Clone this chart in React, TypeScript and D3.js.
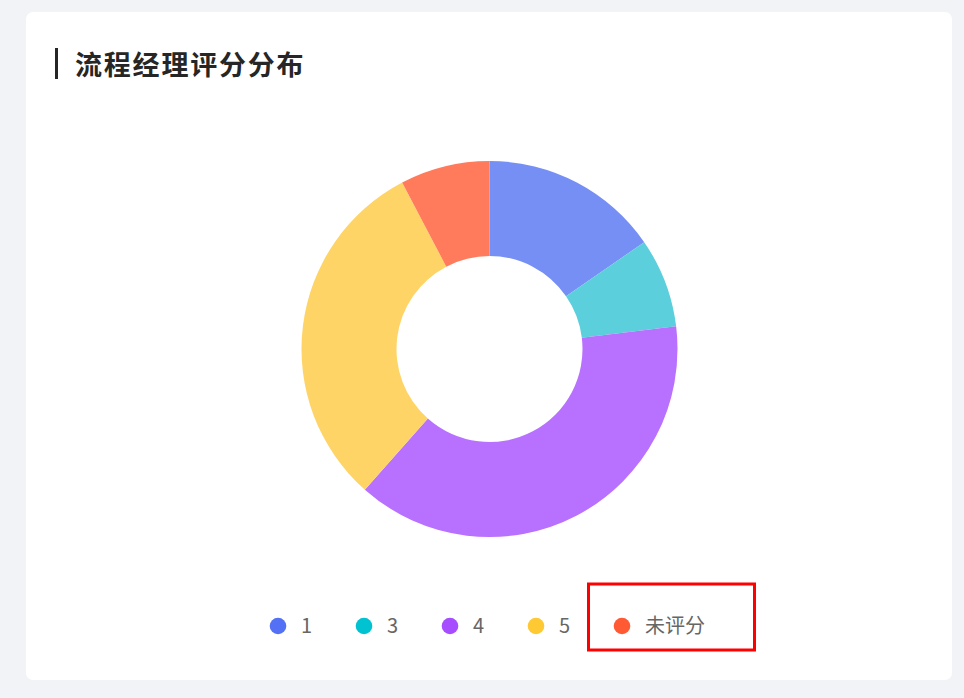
import React from 'react';
import * as d3 from 'd3';

// score distribution of process managers
const categories = ['1', '3', '4', '5', '未评分'];
const counts = [2, 1, 5, 4, 1];
const legendColors = ['#5470f5', '#00c2d1', '#a64dff', '#ffc933', '#ff5a33'];
const sliceColors = ['#768ff5', '#5ccfdc', '#b870ff', '#ffd466', '#ff7b5c'];

const WIDTH = 964;
const HEIGHT = 698;

type Datum = { name: string; value: number; color: string };

const App: React.FC = () => {
  const cx = 489.5;
  const cy = 349;
  const outerRadius = 188;
  const innerRadius = 93;

  const data: Datum[] = categories.map((name, i) => ({ name, value: counts[i], color: sliceColors[i] }));

  const pie = d3
    .pie<Datum>()
    .sort(null)
    .value(d => d.value);

  const arc = d3
    .arc<d3.PieArcDatum<Datum>>()
    .innerRadius(innerRadius)
    .outerRadius(outerRadius);

  const arcs = pie(data);

  // legend: dots spaced evenly, centred under the donut
  const legendStep = 86;
  const legendY = 626;
  const legendX = d3
    .scalePoint<string>()
    .domain(categories)
    .range([cx - 211.5, cx - 211.5 + legendStep * (categories.length - 1)]);

  return (
    <svg
      width={WIDTH}
      height={HEIGHT}
      style={{ position: 'absolute', left: 0, top: 0, display: 'block' }}
    >
      <rect x={0} y={0} width={WIDTH} height={HEIGHT} fill="#f2f3f7" />
      <rect x={26} y={12} width={926} height={668} rx={7} fill="#ffffff" />

      {/* Title */}
      <rect x={55} y={48} width={3} height={31} fill="#262626" />
      <text
        x={75}
        y={74.5}
        fontFamily='"Noto Sans CJK SC", sans-serif'
        fontSize={27}
        fontWeight={700}
        letterSpacing={1.8}
        fill="#262626"
      >
        流程经理评分分布
      </text>

      {/* Donut */}
      <g transform={`translate(${cx},${cy})`}>
        {arcs.map(a => (
          <path key={a.data.name} d={arc(a) || ''} fill={a.data.color} />
        ))}
      </g>

      {/* Legend */}
      <g>
        {categories.map((name, i) => (
          <g key={name} transform={`translate(${legendX(name)},${legendY})`}>
            <circle r={8.3} fill={legendColors[i]} />
            <text
              x={23}
              dy="0.35em"
              fontFamily='"Noto Sans CJK SC", sans-serif'
              fontSize={20}
              fill="#666666"
            >
              {name}
            </text>
          </g>
        ))}
      </g>

      {/* highlight box */}
      <rect x={588.5} y={584} width={166} height={66} fill="none" stroke="#ff0000" strokeWidth={3} />
    </svg>
  );
};

export default App;
